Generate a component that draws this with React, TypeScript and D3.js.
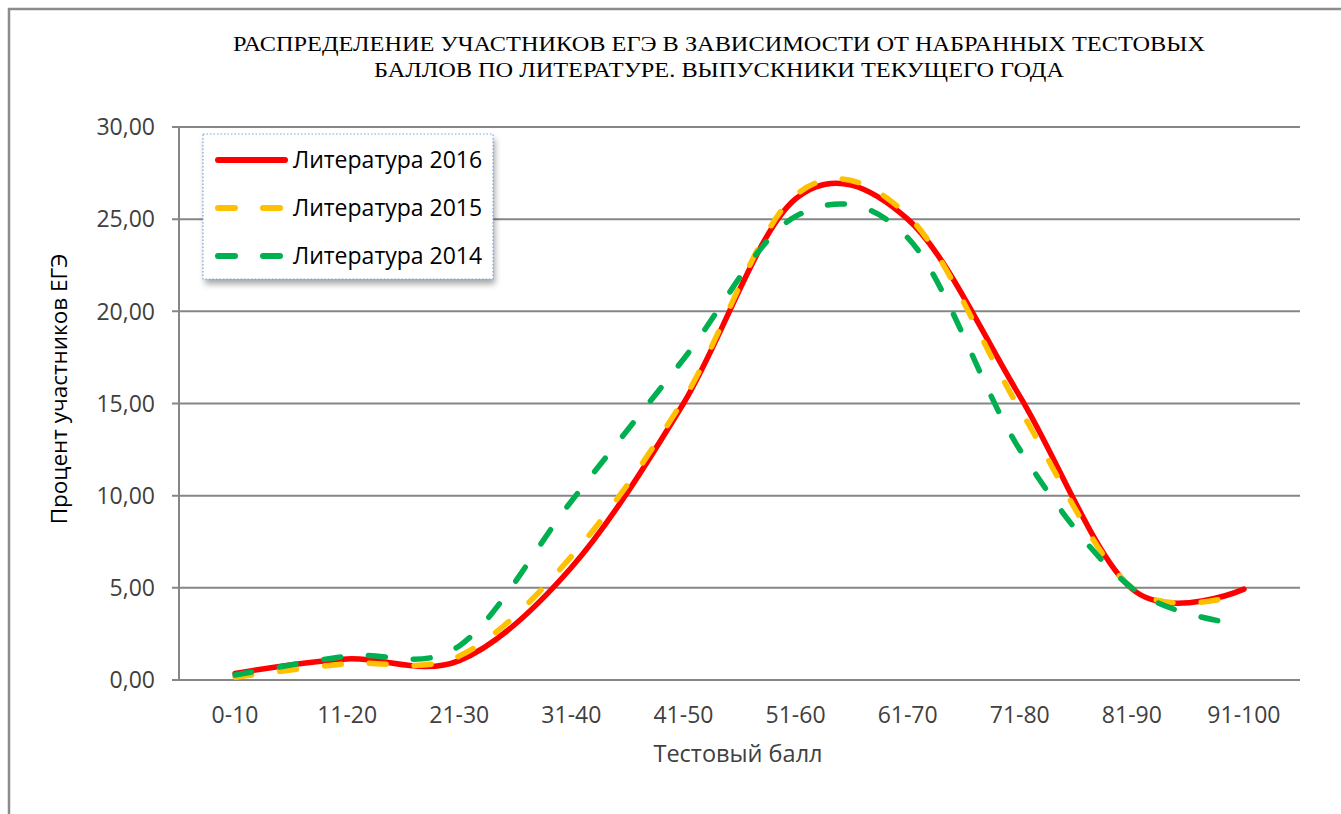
import React from "react";
import * as d3 from "d3";

const categories = ["0-10", "11-20", "21-30", "31-40", "41-50", "51-60", "61-70", "71-80", "81-90", "91-100"];
const lit2016 = [0.36, 1.14, 1.05, 6.1, 15.0, 26.1, 25.0, 15.4, 4.95, 4.93];
const lit2015 = [0.15, 0.89, 1.3, 6.7, 15.2, 26.3, 25.2, 14.7, 5.0, 4.7];
const lit2014 = [0.27, 1.3, 1.85, 9.7, 17.4, 25.15, 24.0, 12.5, 5.0, 3.0];
const yTicks = [0, 5, 10, 15, 20, 25, 30];
const seriesNames = ["Литература 2016", "Литература 2015", "Литература 2014"];
const titleLines = [
  "РАСПРЕДЕЛЕНИЕ  УЧАСТНИКОВ ЕГЭ В ЗАВИСИМОСТИ ОТ НАБРАННЫХ ТЕСТОВЫХ",
  "БАЛЛОВ ПО ЛИТЕРАТУРЕ. ВЫПУСКНИКИ ТЕКУЩЕГО ГОДА",
];

const W = 1341;
const H = 814;
const plot = { left: 179, right: 1300, top: 127, bottom: 680 };
const gridColor = "#868686";
const textColor = "#404040";
const sans = "'Open Sans', 'Noto Sans', sans-serif";

const series = [
  { name: seriesNames[0], values: lit2016, color: "#FF0000", dash: null },
  { name: seriesNames[1], values: lit2015, color: "#FFC000", dash: "17 28" },
  { name: seriesNames[2], values: lit2014, color: "#00B050", dash: "17 28" },
];

export default function App() {
  const x = d3.scaleBand<string>().domain(categories).range([plot.left, plot.right]);
  const cx = (c: string) => (x(c) as number) + x.bandwidth() / 2;
  const y = d3.scaleLinear().domain([0, 30]).range([plot.bottom, plot.top]);
  const line = d3
    .line<number>()
    .x((_, i) => cx(categories[i]))
    .y((d) => y(d))
    .curve(d3.curveCardinal.tension(0));
  const fmt = (v: number) => v.toFixed(2).replace(".", ",");
  const legendY = [160, 208, 256];

  return (
    <svg
      width={W}
      height={H}
      style={{ position: "absolute", left: 0, top: 0, background: "#fff" }}
    >
      <defs>
        <filter id="shadow" x="-10%" y="-10%" width="130%" height="140%">
          <feDropShadow dx="2" dy="5" stdDeviation="3" floodColor="#000" floodOpacity="0.35" />
        </filter>
      </defs>
      <rect x={0} y={0} width={W} height={H} fill="#fff" />
      <path d={`M9,${H} V9 H${W}`} fill="none" stroke="#8c8c8c" strokeWidth={2.5} />

      {titleLines.map((t, i) => (
        <text
          key={i}
          x={719}
          y={51 + i * 26}
          textAnchor="middle"
          fontFamily="'Liberation Serif', 'DejaVu Serif', serif"
          fontSize={20}
          fill="#000"
          textLength={i === 0 ? 972 : 690}
          lengthAdjust="spacingAndGlyphs"
        >
          {t}
        </text>
      ))}

      {yTicks.map((t) => (
        <g key={t}>
          <line x1={plot.left - 7} x2={plot.right} y1={y(t)} y2={y(t)} stroke={gridColor} strokeWidth={2} />
          <text
            x={155}
            y={y(t)}
            dy="0.36em"
            textAnchor="end"
            fontFamily={sans}
            fontSize={23}
            fill={textColor}
          >
            {fmt(t)}
          </text>
        </g>
      ))}
      <line x1={plot.left} x2={plot.left} y1={plot.top} y2={plot.bottom} stroke={gridColor} strokeWidth={2} />

      {categories.map((c) => (
        <text key={c} x={cx(c)} y={723} textAnchor="middle" fontFamily={sans} fontSize={23} fill={textColor}>
          {c}
        </text>
      ))}

      <text x={738} y={762} textAnchor="middle" fontFamily={sans} fontSize={23.5} fill={textColor}>
        Тестовый балл
      </text>
      <text
        transform={`translate(67,389) rotate(-90)`}
        textAnchor="middle"
        fontFamily={sans}
        fontSize={22.5}
        fill="#000"
      >
        Процент участников ЕГЭ
      </text>

      {series.map((s) => (
        <path
          key={s.name}
          d={line(s.values) as string}
          fill="none"
          stroke={s.color}
          strokeWidth={5.5}
          strokeLinecap="round"
          strokeLinejoin="round"
          strokeDasharray={s.dash ?? undefined}
        />
      ))}

      <g>
        <rect x={203} y={134} width={290} height={145} fill="#fff" filter="url(#shadow)" />
        <rect
          x={203}
          y={134}
          width={290}
          height={145}
          fill="#fff"
          stroke="#7fa7e0"
          strokeWidth={1.2}
          strokeDasharray="1.5 2"
        />
        {series.map((s, i) => (
          <g key={s.name}>
            <line
              x1={218}
              x2={s.dash ? 280 : 285}
              y1={legendY[i]}
              y2={legendY[i]}
              stroke={s.color}
              strokeWidth={6}
              strokeLinecap="round"
              strokeDasharray={s.dash ?? undefined}
            />
            <text x={293} y={legendY[i]} dy="0.36em" fontFamily={sans} fontSize={23} fill="#000">
              {s.name}
            </text>
          </g>
        ))}
      </g>
    </svg>
  );
}
